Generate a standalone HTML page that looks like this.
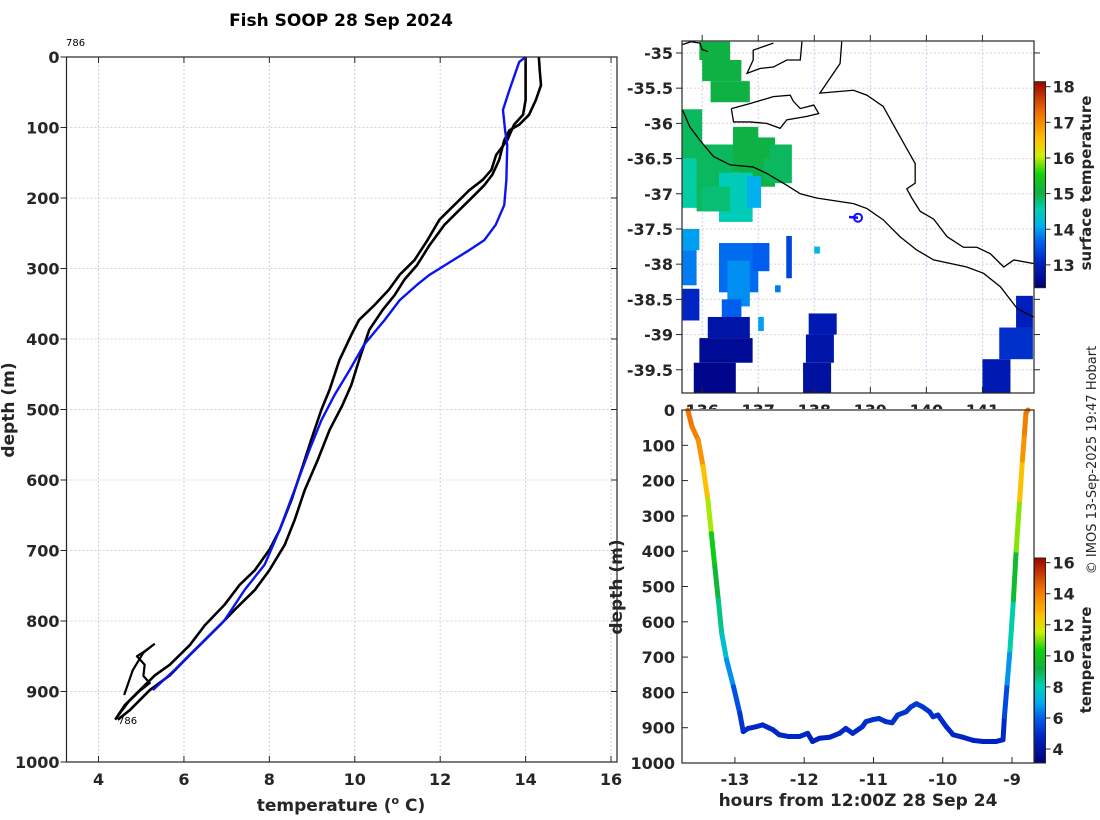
<!DOCTYPE html>
<html><head><meta charset="utf-8">
<style>
html,body{margin:0;padding:0;background:#fff;}
svg{display:block;font-family:"DejaVu Sans","Liberation Sans",sans-serif;}
.tk{font-size:16px;font-weight:bold;fill:#262626;}
</style></head>
<body>
<svg id="fig" width="1100" height="820" viewBox="0 0 1100 820" xmlns="http://www.w3.org/2000/svg">
<defs>
<linearGradient id="jetA" x1="0" y1="1" x2="0" y2="0">
<stop offset="0" stop-color="#00007f"/><stop offset="0.12" stop-color="#0020c0"/><stop offset="0.22" stop-color="#0060f0"/><stop offset="0.3" stop-color="#00b0f0"/><stop offset="0.38" stop-color="#00d0b0"/><stop offset="0.46" stop-color="#10b040"/><stop offset="0.55" stop-color="#10d010"/><stop offset="0.64" stop-color="#d0f000"/><stop offset="0.72" stop-color="#ffc000"/><stop offset="0.85" stop-color="#f07000"/><stop offset="1" stop-color="#a00000"/>
</linearGradient>
<clipPath id="clipMap"><rect x="682" y="41" width="352" height="352"/></clipPath>
<clipPath id="clipMapLbl"><rect x="600" y="0" width="500" height="409"/></clipPath>
</defs>
<g id="root"></g>
</svg>
<script>
// ---------- Left profile data ----------
const blueT=[14.0,13.85,13.62,13.47,13.52,13.57,13.55,13.5,13.3,13.03,12.68,12.2,11.75,11.46,11.05,10.7,10.22,9.88,9.53,9.22,8.94,8.59,8.24,7.89,7.42,6.95,6.37,5.79,5.27];
const blueD=[0,7,47,75,104,125,174,210,238,260,274,292,309,323,345,373,408,444,479,515,557,614,671,720,756,799,834,869,898];
const blackAT=[14.31,14.33,14.36,14.24,14.08,13.85,13.62,13.5,13.38,13.22,13.03,12.8,12.45,12.1,11.75,11.46,11.16,10.93,10.65,10.34,10.1,9.92,9.71,9.41,9.13,8.83,8.59,8.36,8.0,7.66,7.19,6.84,6.49,6.14,5.67,5.2,4.74,4.45];
const blackAD=[0,18,40,61,82,96,104,118,146,167,182,196,217,238,267,295,316,338,359,387,430,465,494,529,572,614,657,692,728,756,784,806,827,848,877,898,926,940];
const blackBT=[14.0,14.0,14.0,13.94,13.73,13.57,13.31,13.2,13.0,12.68,12.33,11.98,11.7,11.4,11.05,10.8,10.46,10.1,9.92,9.64,9.41,9.22,8.98,8.75,8.52,8.24,8.0,7.66,7.3,6.95,6.49,6.14,5.67,5.32,4.97,4.62,4.39];
const blackBD=[0,33,61,82,96,118,139,160,174,189,210,231,260,288,309,330,352,373,394,430,472,500,543,586,628,671,699,728,749,777,806,834,862,877,898,919,940];
const blackCT=[4.45,4.7,4.95,5.2,5.05,5.08,4.9,5.1,5.3,5.05,4.8,4.6];
const blackCD=[935,915,900,888,878,862,850,842,833,845,870,905];
const xTicksL=[4,6,8,10,12,14,16];
const yTicksL=[0,100,200,300,400,500,600,700,800,900,1000];
// ---------- Bottom-right section data ----------
const secH=[-13.68,-13.62,-13.53,-13.46,-13.39,-13.34,-13.29,-13.24,-13.19,-13.12,-13.02,-12.93,-12.88,-12.81,-12.69,-12.6,-12.45,-12.36,-12.22,-12.07,-11.95,-11.88,-11.78,-11.63,-11.49,-11.4,-11.3,-11.16,-11.11,-11.01,-10.92,-10.82,-10.73,-10.65,-10.53,-10.46,-10.38,-10.29,-10.19,-10.14,-10.07,-9.95,-9.85,-9.71,-9.56,-9.42,-9.23,-9.13,-9.11,-9.07,-9.03,-8.98,-8.94,-8.89,-8.85,-8.82,-8.8,-8.77];
const secD=[0,47,85,160,255,350,444,538,633,708,784,859,911,902,897,892,906,920,925,925,916,939,930,927,916,902,916,897,883,877,874,883,886,864,855,841,832,841,855,869,864,897,920,927,936,939,939,934,869,774,680,538,397,255,142,66,9,0];
const secT=[14.2,14.1,13.9,13.2,12.0,10.6,9.8,9.0,8.0,7.2,6.1,5.3,4.9,4.9,4.9,4.9,4.8,4.8,4.8,4.8,4.8,4.7,4.7,4.7,4.8,4.9,4.8,4.9,5.0,5.0,5.0,5.0,5.0,5.1,5.1,5.2,5.2,5.2,5.1,5.0,5.0,4.9,4.8,4.8,4.7,4.7,4.7,4.7,5.0,6.1,7.3,9.0,10.2,12.0,13.2,13.9,14.1,14.2];
const hTicks=[-13,-12,-11,-10,-9];
const dTicksS=[0,100,200,300,400,500,600,700,800,900,1000];
const cbTicksS=[4,6,8,10,12,14,16];
// ---------- Map data ----------
const lonTicks=[136,137,138,139,140,141];
const latTicks=[-35,-35.5,-36,-36.5,-37,-37.5,-38,-38.5,-39,-39.5];
const cbTicksM=[13,14,15,16,17,18];
// SST patches: lon0, lat_top, lon1, lat_bottom, temperature
const sstLon0=[135.95,136.0,136.15,135.65,135.65,135.9,136.55,136.65,137.2,136.3,136.8,135.65,135.65,136.3,136.45,136.9,135.65,136.35,136.1,135.95,135.85,137.9,137.85,137.8,141.6,141.3,141.0,137.5,138.0,137.3,137.0,136.0,137.1];
const sstLat0=[-34.84,-35.1,-35.4,-35.8,-36.5,-36.3,-36.05,-36.2,-36.3,-36.7,-36.75,-37.5,-37.8,-37.7,-37.95,-37.7,-38.35,-38.5,-38.75,-39.05,-39.4,-38.7,-39.0,-39.4,-38.45,-38.9,-39.35,-37.6,-37.75,-38.3,-38.75,-36.9,-36.5];
const sstLon1=[136.5,136.7,136.85,136.0,136.15,136.55,137.0,137.3,137.6,136.9,137.05,135.95,135.9,137.0,136.85,137.2,135.95,136.7,136.85,136.9,136.6,138.4,138.35,138.3,141.9,141.9,141.5,137.6,138.1,137.4,137.1,136.5,137.5];
const sstLat1=[-35.1,-35.4,-35.7,-36.5,-37.2,-37.25,-36.7,-36.9,-36.85,-37.4,-37.2,-37.8,-38.3,-38.4,-38.6,-38.1,-38.8,-38.85,-39.05,-39.4,-39.83,-39.0,-39.4,-39.83,-38.9,-39.35,-39.83,-38.2,-37.85,-38.4,-38.95,-37.25,-36.8];
const sstT=[15.0,15.0,15.0,14.9,14.6,14.9,15.0,15.0,14.9,14.5,14.1,14.0,13.8,13.7,13.9,13.6,13.1,13.6,12.8,12.6,12.5,12.9,12.8,12.7,13.0,13.2,12.9,13.4,14.2,13.8,14.0,14.8,14.9];
// Coastlines (lon/lat)
const coastMainLon=[135.65,135.78,135.96,136.2,136.5,136.91,137.15,137.51,137.75,138.04,138.7,138.94,139.23,139.53,139.83,140.13,140.43,140.72,141.02,141.32,141.62,141.91];
const coastMainLat=[-35.81,-36.05,-36.24,-36.47,-36.59,-36.62,-36.71,-36.88,-37.0,-37.06,-37.14,-37.21,-37.37,-37.61,-37.8,-37.94,-37.99,-38.04,-38.13,-38.32,-38.63,-38.75];
const coastInLon=[138.49,138.46,138.1,138.7,138.94,139.23,139.53,139.8,139.8,139.65,139.74,139.89,140.13,140.37,140.66,140.9,141.14,141.38,141.56,141.91];
const coastInLat=[-34.84,-35.15,-35.57,-35.53,-35.6,-35.76,-36.19,-36.57,-36.85,-36.93,-37.06,-37.25,-37.36,-37.61,-37.76,-37.76,-37.85,-38.04,-37.94,-37.99];
const kiLon=[136.52,136.85,137.27,137.57,137.63,137.75,137.99,138.08,137.87,137.51,137.39,137.15,136.85,136.56,136.52];
const kiLat=[-35.79,-35.72,-35.62,-35.6,-35.69,-35.79,-35.74,-35.86,-35.9,-35.95,-36.07,-36.0,-35.98,-35.98,-35.79];
const yorkeLon=[137.78,137.75,137.51,137.27,137.03,136.8,136.91,136.91,137.27];
const yorkeLat=[-34.84,-35.1,-35.1,-35.2,-35.22,-35.29,-35.1,-34.96,-34.86];
const nwLon=[135.65,135.8,135.96,136.0,136.1];
const nwLat=[-34.88,-34.84,-34.86,-34.95,-34.98];
const shipLon=[138.62,138.78];
const shipLat=[-37.33,-37.34];

const NS='http://www.w3.org/2000/svg';
const root=document.getElementById('root');
function mk(tag,attrs,parent){const e=document.createElementNS(NS,tag);for(const k in attrs)e.setAttribute(k,attrs[k]);(parent||root).appendChild(e);return e;}
function jet(v,lo,hi){let t=(v-lo)/(hi-lo);t=Math.max(0,Math.min(1,t));
 const st=[[0,0,0,127],[0.12,0,32,192],[0.22,0,96,240],[0.3,0,176,240],[0.38,0,208,176],[0.46,16,176,64],[0.55,16,208,16],[0.64,208,240,0],[0.72,255,192,0],[0.85,240,112,0],[1,160,0,0]];
 for(let i=1;i<st.length;i++){if(t<=st[i][0]){const a=st[i-1],b=st[i],f=(t-a[0])/(b[0]-a[0]);return 'rgb('+[1,2,3].map(j=>Math.round(a[j]+f*(b[j]-a[j]))).join(',')+')';}}return 'rgb(160,0,0)';}

// ===== Left panel =====
const L={x0:66.5,x1:617,y0:57,y1:762,tmin:3.25,tmax:16.14,dmax:1000};
const xL=t=>L.x0+(t-L.tmin)/(L.tmax-L.tmin)*(L.x1-L.x0);
const yL=d=>L.y0+d/L.dmax*(L.y1-L.y0);
const gL=mk('g',{});


xTicksL.forEach(t=>{const l=mk('line',{x1:xL(t),x2:xL(t),y1:L.y0,y2:L.y1,stroke:'#c8cdf0','stroke-dasharray':'2,2','stroke-width':1},gL);
 });
yTicksL.forEach(d=>{const l=mk('line',{x1:L.x0,x2:L.x1,y1:yL(d),y2:yL(d),stroke:'#e8d0c8','stroke-dasharray':'2,2','stroke-width':1},gL);
 });
function line(T,D,col,w,name){const p=mk('polyline',{points:T.map((t,i)=>xL(t)+','+yL(D[i])).join(' '),fill:'none',stroke:col,'stroke-width':w,'stroke-linejoin':'round'},gL);
 }
line(blackAT,blackAD,'#000',2.6,'black-profile-a');
line(blackBT,blackBD,'#000',2.6,'black-profile-b');
line(blackCT,blackCD,'#000',2.2,'black-profile-c');
line(blueT,blueD,'#0a14f0',2.4,'blue-profile');
const axL=mk('rect',{x:L.x0,y:L.y0,width:L.x1-L.x0,height:L.y1-L.y0,fill:'none',stroke:'#262626','stroke-width':1.2},gL);

xTicksL.forEach(t=>{mk('line',{x1:xL(t),x2:xL(t),y1:L.y1,y2:L.y1-6,stroke:'#262626'},gL);mk('line',{x1:xL(t),x2:xL(t),y1:L.y0,y2:L.y0+6,stroke:'#262626'},gL);
 const tx=mk('text',{x:xL(t),y:L.y1+23,'text-anchor':'middle',class:'tk'},gL);tx.textContent=t;
 });
yTicksL.forEach(d=>{mk('line',{x1:L.x0,x2:L.x0-6,y1:yL(d),y2:yL(d),stroke:'#262626'},gL);mk('line',{x1:L.x1,x2:L.x1-6,y1:yL(d),y2:yL(d),stroke:'#262626'},gL);
 const tx=mk('text',{x:L.x0-7,y:yL(d)+6,'text-anchor':'end',class:'tk'},gL);tx.textContent=d;
 });

// ===== Map panel =====
const M={x0:682,x1:1034,y0:41,y1:393,lon0:135.64,lon1:141.92,lat0:-34.83,lat1:-39.83};
const xM=lo=>M.x0+(lo-M.lon0)/(M.lon1-M.lon0)*(M.x1-M.x0);
const yM=la=>M.y0+(la-M.lat0)/(M.lat1-M.lat0)*(M.y1-M.y0);
const gM=mk('g',{});


const gMc=mk('g',{'clip-path':'url(#clipMap)'},gM);
lonTicks.forEach(lo=>mk('line',{x1:xM(lo),x2:xM(lo),y1:M.y0,y2:M.y1,stroke:'#c8cdf0','stroke-dasharray':'2,2'},gMc));
latTicks.forEach(la=>mk('line',{x1:M.x0,x2:M.x1,y1:yM(la),y2:yM(la),stroke:'#e0d0d0','stroke-dasharray':'2,2'},gMc));
sstT.forEach((v,i)=>{const r=mk('rect',{x:xM(sstLon0[i]),y:yM(sstLat0[i]),width:xM(sstLon1[i])-xM(sstLon0[i]),height:yM(sstLat1[i])-yM(sstLat0[i]),fill:jet(v,12.36,18.14)},gMc);
 });
function coast(LO,LA,name){const p=mk('polyline',{points:LO.map((lo,i)=>xM(lo)+','+yM(LA[i])).join(' '),fill:'none',stroke:'#000','stroke-width':1.3},gMc);
 }
coast(coastMainLon,coastMainLat,'coastline-main');
coast(coastInLon,coastInLat,'coastline-inner');
coast(kiLon,kiLat,'kangaroo-island');
coast(yorkeLon,yorkeLat,'coastline-peninsula');
coast(nwLon,nwLat,'coastline-northwest');
const sl=mk('polyline',{points:shipLon.map((lo,i)=>xM(lo)+','+yM(shipLat[i])).join(' '),stroke:'#1010ff','stroke-width':2.5,fill:'none'},gMc);

const sc=mk('circle',{cx:xM(shipLon[1]),cy:yM(shipLat[1]),r:4,fill:'none',stroke:'#1010ff','stroke-width':2},gMc);

const axM=mk('rect',{x:M.x0,y:M.y0,width:M.x1-M.x0,height:M.y1-M.y0,fill:'none',stroke:'#262626','stroke-width':1.2},gM);

const gMl=mk('g',{'clip-path':'url(#clipMapLbl)'},gM);
lonTicks.forEach(lo=>{mk('line',{x1:xM(lo),x2:xM(lo),y1:M.y1,y2:M.y1-6,stroke:'#262626'},gM);mk('line',{x1:xM(lo),x2:xM(lo),y1:M.y0,y2:M.y0-6,stroke:'#262626'},gM);
 const tx=mk('text',{x:xM(lo),y:M.y1+23,'text-anchor':'middle',class:'tk'},gMl);tx.textContent=lo;
 });
latTicks.forEach(la=>{mk('line',{x1:M.x0,x2:M.x0-6,y1:yM(la),y2:yM(la),stroke:'#262626'},gM);mk('line',{x1:M.x1,x2:M.x1+6,y1:yM(la),y2:yM(la),stroke:'#262626'},gM);
 const tx=mk('text',{x:M.x0-9,y:yM(la)+6,'text-anchor':'end',class:'tk'},gM);tx.textContent=la;
 });
// map colorbar
const CM={x:1034.5,w:11,y0:81.7,y1:287.7,lo:12.36,hi:18.14};
const yCM=v=>CM.y1-(v-CM.lo)/(CM.hi-CM.lo)*(CM.y1-CM.y0);
const cbm=mk('rect',{x:CM.x,y:CM.y0,width:CM.w,height:CM.y1-CM.y0,fill:'url(#jetA)',stroke:'#262626','stroke-width':1},gM);

cbTicksM.forEach(v=>{mk('line',{x1:CM.x+CM.w,x2:CM.x+CM.w+5,y1:yCM(v),y2:yCM(v),stroke:'#262626'},gM);
 const tx=mk('text',{x:CM.x+CM.w+7,y:yCM(v)+6,class:'tk'},gM);tx.textContent=v;
 });

// ===== Section panel =====
const S={x0:682,x1:1034,y0:410,y1:763,h0:-13.764,h1:-8.683};
const xS=h=>S.x0+(h-S.h0)/(S.h1-S.h0)*(S.x1-S.x0);
const yS=d=>S.y0+d/1000*(S.y1-S.y0);
const gS=mk('g',{});


mk('rect',{x:S.x0,y:S.y0,width:S.x1-S.x0,height:S.y1-S.y0,fill:'#fff'},gS);
for(let i=0;i<secH.length-1;i++){const s=mk('line',{x1:xS(secH[i]),y1:yS(secD[i]),x2:xS(secH[i+1]),y2:yS(secD[i+1]),stroke:jet((secT[i]+secT[i+1])/2,3.1,16.3),'stroke-width':5,'stroke-linecap':'round'},gS);
 }
const axS=mk('rect',{x:S.x0,y:S.y0,width:S.x1-S.x0,height:S.y1-S.y0,fill:'none',stroke:'#262626','stroke-width':1.2},gS);

hTicks.forEach(h=>{mk('line',{x1:xS(h),x2:xS(h),y1:S.y1,y2:S.y1-6,stroke:'#262626'},gS);
 const tx=mk('text',{x:xS(h),y:S.y1+22,'text-anchor':'middle',class:'tk'},gS);tx.textContent=h;
 });
dTicksS.forEach(d=>{mk('line',{x1:S.x0,x2:S.x0+6,y1:yS(d),y2:yS(d),stroke:'#262626'},gS);
 const tx=mk('text',{x:S.x0-7,y:yS(d)+6,'text-anchor':'end',class:'tk'},gS);tx.textContent=d;
 });
const CS={x:1034.5,w:11,y0:558,y1:763,lo:3.1,hi:16.3};
const yCS=v=>CS.y1-(v-CS.lo)/(CS.hi-CS.lo)*(CS.y1-CS.y0);
const cbs=mk('rect',{x:CS.x,y:CS.y0,width:CS.w,height:CS.y1-CS.y0,fill:'url(#jetA)',stroke:'#262626','stroke-width':1},gS);

cbTicksS.forEach(v=>{mk('line',{x1:CS.x+CS.w,x2:CS.x+CS.w+5,y1:yCS(v),y2:yCS(v),stroke:'#262626'},gS);
 const tx=mk('text',{x:CS.x+CS.w+7,y:yCS(v)+6,class:'tk'},gS);tx.textContent=v;
 });
</script>
<svg style="position:absolute;left:0;top:0" width="1100" height="820" xmlns="http://www.w3.org/2000/svg" font-family="DejaVu Sans, Liberation Sans, sans-serif">
<text x="341" y="26" text-anchor="middle" font-size="17" font-weight="bold" fill="#000">Fish SOOP 28 Sep 2024</text>
<text x="66" y="46" font-size="10" fill="#000">786</text>
<text x="118" y="724" font-size="10" fill="#000">786</text>
<text x="341" y="811" text-anchor="middle" font-size="17" font-weight="bold" fill="#262626">temperature (<tspan font-size="11" dy="-7">o</tspan><tspan dy="7"> C)</tspan></text>
<text transform="translate(14,410) rotate(-90)" text-anchor="middle" font-size="17" font-weight="bold" fill="#262626">depth (m)</text>
<text transform="translate(622,587) rotate(-90)" text-anchor="middle" font-size="17" font-weight="bold" fill="#262626">depth (m)</text>
<text x="858" y="806" text-anchor="middle" font-size="17" font-weight="bold" fill="#262626">hours from 12:00Z 28 Sep 24</text>
<text transform="translate(1091,183) rotate(-90)" text-anchor="middle" font-size="15" font-weight="bold" fill="#262626">surface temperature</text>
<text transform="translate(1091,660) rotate(-90)" text-anchor="middle" font-size="15" font-weight="bold" fill="#262626">temperature</text>
<text transform="translate(1096,460) rotate(-90)" text-anchor="middle" font-size="13" fill="#262626">© IMOS 13-Sep-2025 19:47 Hobart</text>
</svg>
</body></html>
